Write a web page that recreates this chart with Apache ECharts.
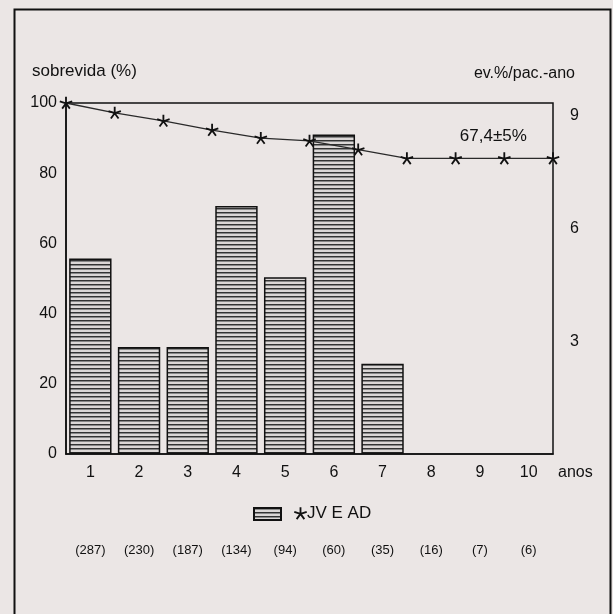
<!DOCTYPE html>
<html>
<head>
<meta charset="utf-8">
<script src="https://cdn.jsdelivr.net/npm/echarts@6/dist/echarts.min.js"></script>
<style>
  html, body { margin: 0; padding: 0; background: #ebe6e5; }
  #chart { width: 613px; height: 614px; }
</style>
</head>
<body>
<div id="chart"></div>
<script>
// dados
const anos = ['1', '2', '3', '4', '5', '6', '7', '8', '9', '10'];
const eventos = [5.2, 2.85, 2.85, 6.6, 4.7, 8.5, 2.4]; // ev.%/pac.-ano
const anosSobrevida = [0, 1, 2, 3, 4, 5, 6, 7, 8, 9, 10];
const sobrevida = [100, 97.2, 94.9, 92.3, 90.0, 89.2, 86.7, 84.2, 84.2, 84.2, 84.2];
const pacientes = ['(287)', '(230)', '(187)', '(134)', '(94)', '(60)', '(35)', '(16)', '(7)', '(6)'];
const fonte = 'Liberation Sans, Arial, sans-serif';

// padrão listrado das barras
const padrao = document.createElement('canvas');
padrao.width = 4; padrao.height = 4;
const pc = padrao.getContext('2d');
pc.fillStyle = '#dbd7d6'; pc.fillRect(0, 0, 4, 4);
pc.fillStyle = '#333'; pc.fillRect(0, 0, 4, 1);
pc.fillStyle = '#888'; pc.fillRect(0, 1, 4, 1);

// asterisco de 5 pontas (raios a partir do centro)
function asterisco() {
  const L = 10, t = 1.4, c = 10;
  let d = '';
  for (let k = 0; k < 5; k++) {
    const a = (90 + k * 72) * Math.PI / 180;
    const ux = Math.cos(a), uy = -Math.sin(a);
    const nx = -uy, ny = ux;
    const pts = [
      [c - t * nx, c - t * ny],
      [c + L * ux - t * nx, c + L * uy - t * ny],
      [c + L * ux + t * nx, c + L * uy + t * ny],
      [c + t * nx, c + t * ny]
    ];
    d += 'M' + pts.map(p => p[0].toFixed(2) + ' ' + p[1].toFixed(2)).join(' L') + ' Z ';
  }
  return 'path://' + d;
}
const simbolo = asterisco();

const myChart = echarts.init(document.getElementById('chart'));

const option = {
  backgroundColor: '#ebe6e5',
  textStyle: { fontFamily: fonte, color: '#111' },
  animation: false,
  grid: {
    left: 66, right: 60, top: 103, bottom: 160,
    show: true, borderColor: '#111', borderWidth: 1.5
  },
  graphic: [
    {
      type: 'rect', left: 12, top: 7,
      shape: { width: 596, height: 620 },
      style: { fill: 'none', stroke: '#111', lineWidth: 2 }
    },
    {
      type: 'text', left: 32, top: 63,
      style: { text: 'sobrevida (%)', font: '17px ' + fonte, fill: '#111' }
    },
    {
      type: 'text', right: 38, top: 66,
      style: { text: 'ev.%/pac.-ano', font: '16px ' + fonte, fill: '#111' }
    }
  ],
  legend: [
    {
      data: ['ev.%/pac.-ano'],
      left: 248, top: 502,
      icon: 'rect',
      itemWidth: 27, itemHeight: 12,
      formatter: function () { return ''; }
    },
    {
      data: ['JV E AD'],
      left: 289, top: 500,
      icon: simbolo,
      itemWidth: 13, itemHeight: 13,
      textStyle: { fontSize: 17, color: '#111', padding: [0, 0, 0, -5] }
    }
  ],
  xAxis: [
    {
      type: 'category',
      data: anos,
      axisLine: { lineStyle: { color: '#111', width: 1.5 } },
      axisTick: { show: false },
      axisLabel: { fontSize: 16, color: '#111', margin: 11 },
      name: 'anos',
      nameLocation: 'end',
      nameGap: 5,
      nameTextStyle: { fontSize: 16, color: '#111', verticalAlign: 'top', align: 'left', padding: [11, 0, 0, 0] }
    },
    {
      type: 'value',
      min: 0, max: 10,
      show: false
    },
    {
      type: 'category',
      data: pacientes,
      position: 'bottom',
      offset: 86,
      axisLine: { show: false },
      axisTick: { show: false },
      axisLabel: { fontSize: 13, color: '#111', margin: 4 }
    }
  ],
  yAxis: [
    {
      type: 'value',
      min: 0, max: 100, interval: 20,
      axisLine: { show: true, lineStyle: { color: '#111', width: 1.5 } },
      axisTick: { show: false },
      splitLine: { show: false },
      axisLabel: { fontSize: 16, color: '#111', margin: 9 }
    },
    {
      type: 'value',
      min: 0, max: 9.34, interval: 3,
      position: 'right',
      axisLine: { show: false },
      axisTick: { show: false },
      splitLine: { show: false },
      axisLabel: {
        fontSize: 16, color: '#111', margin: 17,
        formatter: function (v) { return (v > 0 && v % 3 === 0) ? String(v) : ''; }
      }
    }
  ],
  series: [
    {
      name: 'ev.%/pac.-ano',
      type: 'bar',
      xAxisIndex: 0,
      yAxisIndex: 1,
      data: eventos,
      barCategoryGap: '13%',
      itemStyle: {
        color: { image: padrao, repeat: 'repeat' },
        borderColor: '#111',
        borderWidth: 1.5
      }
    },
    {
      name: 'JV E AD',
      type: 'line',
      xAxisIndex: 1,
      yAxisIndex: 0,
      data: anosSobrevida.map(function (a, i) {
        const p = { value: [a, sobrevida[i]] };
        if (i === 9) {
          p.label = {
            show: true, position: 'top', distance: 7, offset: [-11, 0],
            formatter: '67,4±5%', fontSize: 17, color: '#111'
          };
        }
        return p;
      }),
      symbol: simbolo,
      symbolSize: 13,
      symbolKeepAspect: true,
      lineStyle: { color: '#2a2a2a', width: 1.3 },
      itemStyle: { color: '#111' },
      z: 5
    }
  ]
};

myChart.setOption(option);
</script>
</body>
</html>
